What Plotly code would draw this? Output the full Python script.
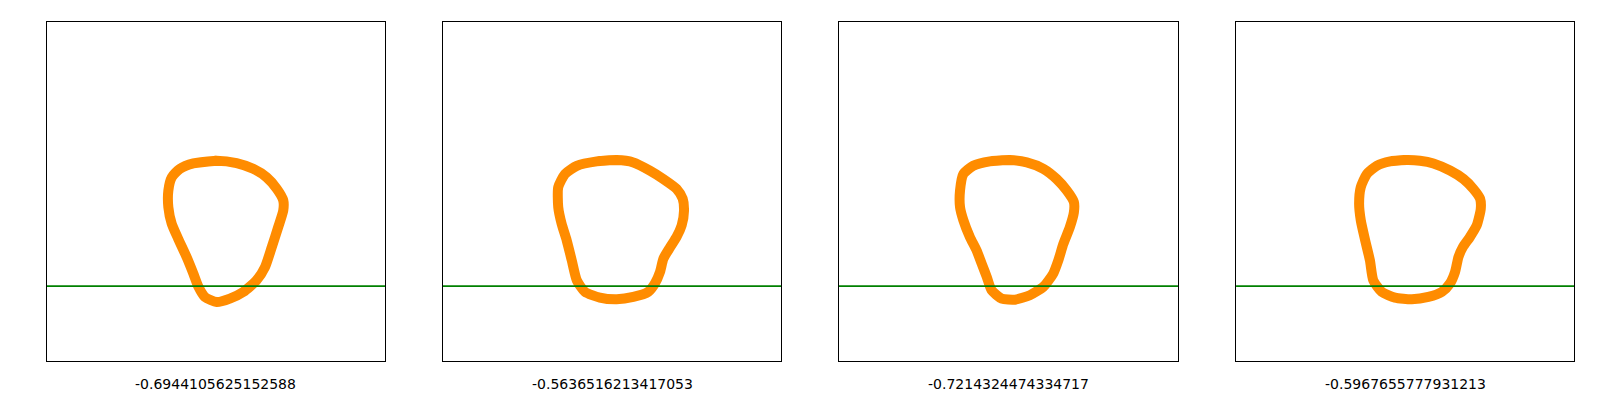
import plotly.graph_objects as go

# contour outlines, one per panel (axis units 0-100)
contour_x_1 = [50.2, 43.3, 39.3, 36.9, 35.9, 35.9, 36.9, 38.8, 41.3, 43.3, 44.8, 46.7, 50.2,
               54.1, 58.1, 62.0, 64.5, 66.5, 68.4, 69.9, 69.9, 68.0, 65.0, 61.0, 56.1]
contour_y_1 = [59.1, 58.3, 56.7, 54.2, 50.3, 45.4, 40.5, 36.1, 30.7, 25.8, 21.9, 18.9, 17.4,
               18.4, 20.4, 23.8, 27.7, 33.6, 39.5, 44.4, 47.4, 50.8, 54.2, 56.7, 58.4]

contour_x_2 = [51.4, 45.5, 39.6, 36.1, 34.1, 34.1, 35.1, 36.6, 38.1, 39.6, 42.0, 46.4, 51.4, 56.3,
               60.7, 62.7, 64.2, 65.2, 67.2, 69.1, 70.6, 71.3, 70.9, 69.1, 65.2, 61.2, 56.3]
contour_y_2 = [59.3, 58.9, 57.6, 55.2, 51.3, 45.4, 40.5, 35.6, 29.7, 23.8, 20.4, 18.7, 18.2, 18.9,
               20.4, 22.9, 26.3, 30.2, 33.6, 36.6, 40.0, 44.4, 47.9, 50.8, 53.7, 56.2, 58.6]

contour_x_3 = [50.4, 44.5, 39.6, 36.7, 35.7, 35.7, 36.7, 38.6, 40.6, 42.1, 43.6, 45.0, 48.0, 51.9,
               56.3, 60.3, 63.2, 64.7, 66.2, 68.1, 69.3, 69.3, 67.2, 64.2, 60.3, 55.4]
contour_y_3 = [59.3, 58.9, 57.6, 55.2, 50.3, 45.4, 41.5, 36.6, 32.6, 28.7, 24.8, 20.9, 18.4, 18.1,
               19.4, 21.9, 25.8, 29.7, 34.6, 39.5, 43.9, 46.9, 50.3, 53.7, 56.7, 58.6]

contour_x_4 = [50.5, 45.6, 41.6, 38.7, 36.9, 36.4, 36.9, 38.2, 39.6, 40.6, 43.1, 47.0, 52.0, 56.9,
               60.9, 63.3, 64.8, 65.8, 67.1, 69.2, 71.2, 72.4, 72.2, 70.2, 67.3, 63.3, 58.4, 54.4]
contour_y_4 = [59.3, 58.9, 57.6, 55.2, 51.3, 46.4, 41.5, 35.6, 29.7, 23.8, 20.4, 18.7, 18.2, 18.9,
               20.4, 22.9, 26.3, 30.7, 33.6, 36.6, 40.0, 44.9, 47.9, 50.8, 53.7, 56.2, 58.3, 59.1]

baseline_levels = [22.1, 22.1, 22.1, 22.1]
panel_labels = ["-0.6944105625152588", "-0.5636516213417053",
                "-0.7214324474334717", "-0.5967655777931213"]

contours = [(contour_x_1, contour_y_1), (contour_x_2, contour_y_2),
            (contour_x_3, contour_y_3), (contour_x_4, contour_y_4)]

axis_range = [0, 100]
# page body has an 8px margin, so the figure is sized 1592x392 and domains are shifted
x_domains = [[0.0245, 0.2368], [0.2732, 0.4856], [0.5220, 0.7349], [0.7714, 0.9837]]
y_domain = [0.0995, 0.9640]

fig = go.Figure()

for i, (cx, cy) in enumerate(contours):
    n = "" if i == 0 else str(i + 1)
    xa, ya = "x" + n, "y" + n

    fig.add_trace(go.Scatter(
        x=cx + cx[:2], y=cy + cy[:2], xaxis=xa, yaxis=ya,
        mode="lines", line=dict(color="#FF8C00", width=10, shape="spline", smoothing=0.6),
        hoverinfo="skip", showlegend=False))

    fig.add_trace(go.Scatter(
        x=axis_range, y=[baseline_levels[i]] * 2, xaxis=xa, yaxis=ya,
        mode="lines", line=dict(color="green", width=1.6),
        hoverinfo="skip", showlegend=False))

    axis_style = dict(range=axis_range, showgrid=False, zeroline=False, showticklabels=False,
                      ticks="", showline=True, linecolor="black", linewidth=1, mirror=True)
    fig.layout["xaxis" + n] = dict(axis_style, domain=x_domains[i], anchor=ya)
    fig.layout["yaxis" + n] = dict(axis_style, domain=y_domain, anchor=xa)

    fig.add_annotation(text=panel_labels[i], xref=xa + " domain", yref="paper",
                       x=0.5, y=0.0408, showarrow=False, xanchor="center", yanchor="middle",
                       font=dict(family="DejaVu Sans", size=14, color="black"))

fig.update_layout(width=1592, height=392, margin=dict(l=0, r=0, t=0, b=0),
                  paper_bgcolor="white", plot_bgcolor="white")

fig.write_html("out.html")
